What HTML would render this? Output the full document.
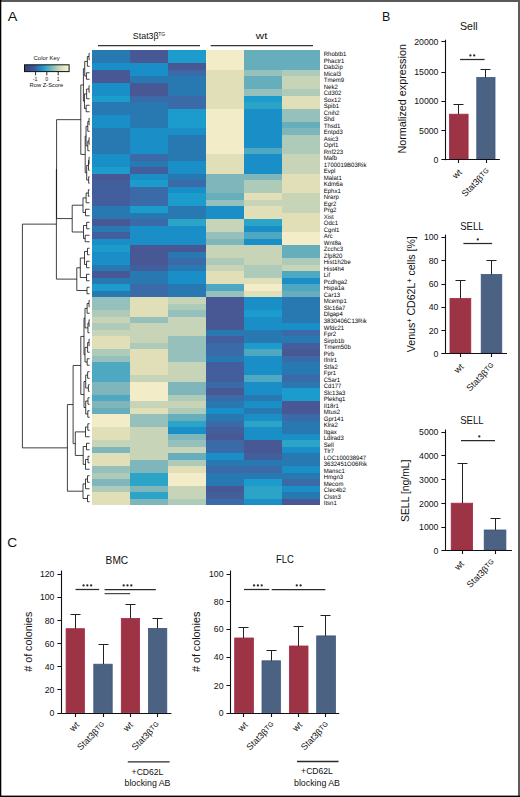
<!DOCTYPE html><html><head><meta charset="utf-8"><title>Figure</title><style>html,body{margin:0;padding:0;background:#fff;}body{width:520px;height:797px;overflow:hidden;font-family:"Liberation Sans",sans-serif;}svg{display:block;}</style></head><body><svg width="520" height="797" viewBox="0 0 520 797" style="font-family:'Liberation Sans',sans-serif" fill="#111"><defs><linearGradient id="ck" x1="0" x2="1" y1="0" y2="0"><stop offset="0" stop-color="#3a3c78"/><stop offset="0.22" stop-color="#3a5a9c"/><stop offset="0.4" stop-color="#1a96cc"/><stop offset="0.6" stop-color="#72b8bc"/><stop offset="0.8" stop-color="#cddcbc"/><stop offset="1" stop-color="#faf4d2"/></linearGradient></defs><rect width="520" height="797" fill="#fff"/><text x="7.75" y="20.80" font-size="13.60" textLength="9.60" lengthAdjust="spacingAndGlyphs">A</text><text x="382.10" y="20.50" font-size="12.90" textLength="8.31" lengthAdjust="spacingAndGlyphs">B</text><text x="7.20" y="546.70" font-size="12.80" textLength="9.89" lengthAdjust="spacingAndGlyphs">C</text><text x="132.86" y="39.00" font-size="9.20" textLength="25.79" lengthAdjust="spacingAndGlyphs">Stat3β</text><text x="158.17" y="35.60" font-size="6.10" textLength="7.05" lengthAdjust="spacingAndGlyphs">TG</text><text x="255.86" y="38.80" font-size="9.20" textLength="11.59" lengthAdjust="spacingAndGlyphs">wt</text><path d="M98 45.6H200M210.7 45.6H313" stroke="#333" stroke-width="1.2" fill="none"/><text x="33.57" y="59.80" font-size="6.20" textLength="26.17" lengthAdjust="spacingAndGlyphs">Color Key</text><rect x="24.5" y="64.8" width="44.6" height="6.8" fill="url(#ck)" stroke="#111" stroke-width="1"/><path d="M35.6 72V75.4M46.8 72V75.4M58.2 72V75.4" stroke="#111" stroke-width="0.9" fill="none"/><g font-size="5.2" text-anchor="middle"><text x="35" y="80.6">-1</text><text x="46.8" y="80.6">0</text><text x="58.2" y="80.6">1</text></g><text x="29.58" y="87.30" font-size="6.00" textLength="33.64" lengthAdjust="spacingAndGlyphs">Row Z-Score</text><g shape-rendering="crispEdges"><rect x="92.00" y="50.00" width="38.30" height="6.80" fill="#2878b2"/><rect x="130.00" y="50.00" width="38.30" height="6.80" fill="#485894"/><rect x="168.00" y="50.00" width="38.30" height="6.80" fill="#1c9ccc"/><rect x="206.00" y="50.00" width="38.30" height="6.80" fill="#f2ecc8"/><rect x="244.00" y="50.00" width="38.30" height="6.80" fill="#66aebc"/><rect x="282.00" y="50.00" width="38.30" height="6.80" fill="#66aebc"/><rect x="92.00" y="56.50" width="38.30" height="6.80" fill="#2878b2"/><rect x="130.00" y="56.50" width="38.30" height="6.80" fill="#485894"/><rect x="168.00" y="56.50" width="38.30" height="6.80" fill="#1c9ccc"/><rect x="206.00" y="56.50" width="38.30" height="6.80" fill="#f2ecc8"/><rect x="244.00" y="56.50" width="38.30" height="6.80" fill="#66aebc"/><rect x="282.00" y="56.50" width="38.30" height="6.80" fill="#66aebc"/><rect x="92.00" y="63.00" width="38.30" height="6.80" fill="#1a8ec6"/><rect x="130.00" y="63.00" width="38.30" height="6.80" fill="#1a8ec6"/><rect x="168.00" y="63.00" width="38.30" height="6.80" fill="#485894"/><rect x="206.00" y="63.00" width="38.30" height="6.80" fill="#f2ecc8"/><rect x="244.00" y="63.00" width="38.30" height="6.80" fill="#66aebc"/><rect x="282.00" y="63.00" width="38.30" height="6.80" fill="#66aebc"/><rect x="92.00" y="69.50" width="38.30" height="6.80" fill="#485894"/><rect x="130.00" y="69.50" width="38.30" height="6.80" fill="#1a8ec6"/><rect x="168.00" y="69.50" width="38.30" height="6.80" fill="#3a6aa8"/><rect x="206.00" y="69.50" width="38.30" height="6.80" fill="#e0dfb8"/><rect x="244.00" y="69.50" width="38.30" height="6.80" fill="#96c0bc"/><rect x="282.00" y="69.50" width="38.30" height="6.80" fill="#aecab8"/><rect x="92.00" y="76.00" width="38.30" height="6.80" fill="#485894"/><rect x="130.00" y="76.00" width="38.30" height="6.80" fill="#2878b2"/><rect x="168.00" y="76.00" width="38.30" height="6.80" fill="#2878b2"/><rect x="206.00" y="76.00" width="38.30" height="6.80" fill="#e0dfb8"/><rect x="244.00" y="76.00" width="38.30" height="6.80" fill="#66aebc"/><rect x="282.00" y="76.00" width="38.30" height="6.80" fill="#c8d4b8"/><rect x="92.00" y="82.50" width="38.30" height="6.80" fill="#1a8ec6"/><rect x="130.00" y="82.50" width="38.30" height="6.80" fill="#485894"/><rect x="168.00" y="82.50" width="38.30" height="6.80" fill="#2878b2"/><rect x="206.00" y="82.50" width="38.30" height="6.80" fill="#e0dfb8"/><rect x="244.00" y="82.50" width="38.30" height="6.80" fill="#66aebc"/><rect x="282.00" y="82.50" width="38.30" height="6.80" fill="#c8d4b8"/><rect x="92.00" y="89.00" width="38.30" height="6.80" fill="#1a8ec6"/><rect x="130.00" y="89.00" width="38.30" height="6.80" fill="#485894"/><rect x="168.00" y="89.00" width="38.30" height="6.80" fill="#2878b2"/><rect x="206.00" y="89.00" width="38.30" height="6.80" fill="#e0dfb8"/><rect x="244.00" y="89.00" width="38.30" height="6.80" fill="#96c0bc"/><rect x="282.00" y="89.00" width="38.30" height="6.80" fill="#aecab8"/><rect x="92.00" y="95.50" width="38.30" height="6.80" fill="#1c9ccc"/><rect x="130.00" y="95.50" width="38.30" height="6.80" fill="#3a6aa8"/><rect x="168.00" y="95.50" width="38.30" height="6.80" fill="#3a6aa8"/><rect x="206.00" y="95.50" width="38.30" height="6.80" fill="#e0dfb8"/><rect x="244.00" y="95.50" width="38.30" height="6.80" fill="#1c9ccc"/><rect x="282.00" y="95.50" width="38.30" height="6.80" fill="#e0dfb8"/><rect x="92.00" y="102.00" width="38.30" height="6.80" fill="#2878b2"/><rect x="130.00" y="102.00" width="38.30" height="6.80" fill="#2878b2"/><rect x="168.00" y="102.00" width="38.30" height="6.80" fill="#3a6aa8"/><rect x="206.00" y="102.00" width="38.30" height="6.80" fill="#e0dfb8"/><rect x="244.00" y="102.00" width="38.30" height="6.80" fill="#2ca4c8"/><rect x="282.00" y="102.00" width="38.30" height="6.80" fill="#e0dfb8"/><rect x="92.00" y="108.50" width="38.30" height="6.80" fill="#2878b2"/><rect x="130.00" y="108.50" width="38.30" height="6.80" fill="#2878b2"/><rect x="168.00" y="108.50" width="38.30" height="6.80" fill="#1c9ccc"/><rect x="206.00" y="108.50" width="38.30" height="6.80" fill="#f2ecc8"/><rect x="244.00" y="108.50" width="38.30" height="6.80" fill="#1a8ec6"/><rect x="282.00" y="108.50" width="38.30" height="6.80" fill="#96c0bc"/><rect x="92.00" y="115.00" width="38.30" height="6.80" fill="#1a8ec6"/><rect x="130.00" y="115.00" width="38.30" height="6.80" fill="#2878b2"/><rect x="168.00" y="115.00" width="38.30" height="6.80" fill="#1c9ccc"/><rect x="206.00" y="115.00" width="38.30" height="6.80" fill="#f2ecc8"/><rect x="244.00" y="115.00" width="38.30" height="6.80" fill="#1a8ec6"/><rect x="282.00" y="115.00" width="38.30" height="6.80" fill="#96c0bc"/><rect x="92.00" y="121.50" width="38.30" height="6.80" fill="#1a8ec6"/><rect x="130.00" y="121.50" width="38.30" height="6.80" fill="#2878b2"/><rect x="168.00" y="121.50" width="38.30" height="6.80" fill="#1c9ccc"/><rect x="206.00" y="121.50" width="38.30" height="6.80" fill="#f2ecc8"/><rect x="244.00" y="121.50" width="38.30" height="6.80" fill="#1a8ec6"/><rect x="282.00" y="121.50" width="38.30" height="6.80" fill="#66aebc"/><rect x="92.00" y="128.00" width="38.30" height="6.80" fill="#2878b2"/><rect x="130.00" y="128.00" width="38.30" height="6.80" fill="#1a8ec6"/><rect x="168.00" y="128.00" width="38.30" height="6.80" fill="#1a8ec6"/><rect x="206.00" y="128.00" width="38.30" height="6.80" fill="#f2ecc8"/><rect x="244.00" y="128.00" width="38.30" height="6.80" fill="#1a8ec6"/><rect x="282.00" y="128.00" width="38.30" height="6.80" fill="#7eb6bc"/><rect x="92.00" y="134.50" width="38.30" height="6.80" fill="#2878b2"/><rect x="130.00" y="134.50" width="38.30" height="6.80" fill="#1a8ec6"/><rect x="168.00" y="134.50" width="38.30" height="6.80" fill="#2878b2"/><rect x="206.00" y="134.50" width="38.30" height="6.80" fill="#f2ecc8"/><rect x="244.00" y="134.50" width="38.30" height="6.80" fill="#1a8ec6"/><rect x="282.00" y="134.50" width="38.30" height="6.80" fill="#aecab8"/><rect x="92.00" y="141.00" width="38.30" height="6.80" fill="#2878b2"/><rect x="130.00" y="141.00" width="38.30" height="6.80" fill="#1a8ec6"/><rect x="168.00" y="141.00" width="38.30" height="6.80" fill="#2878b2"/><rect x="206.00" y="141.00" width="38.30" height="6.80" fill="#f2ecc8"/><rect x="244.00" y="141.00" width="38.30" height="6.80" fill="#1a8ec6"/><rect x="282.00" y="141.00" width="38.30" height="6.80" fill="#aecab8"/><rect x="92.00" y="147.50" width="38.30" height="6.80" fill="#2878b2"/><rect x="130.00" y="147.50" width="38.30" height="6.80" fill="#1a8ec6"/><rect x="168.00" y="147.50" width="38.30" height="6.80" fill="#2878b2"/><rect x="206.00" y="147.50" width="38.30" height="6.80" fill="#f2ecc8"/><rect x="244.00" y="147.50" width="38.30" height="6.80" fill="#4ea8c2"/><rect x="282.00" y="147.50" width="38.30" height="6.80" fill="#aecab8"/><rect x="92.00" y="154.00" width="38.30" height="6.80" fill="#1a8ec6"/><rect x="130.00" y="154.00" width="38.30" height="6.80" fill="#3a6aa8"/><rect x="168.00" y="154.00" width="38.30" height="6.80" fill="#2878b2"/><rect x="206.00" y="154.00" width="38.30" height="6.80" fill="#e0dfb8"/><rect x="244.00" y="154.00" width="38.30" height="6.80" fill="#1a8ec6"/><rect x="282.00" y="154.00" width="38.30" height="6.80" fill="#c8d4b8"/><rect x="92.00" y="160.50" width="38.30" height="6.80" fill="#1a8ec6"/><rect x="130.00" y="160.50" width="38.30" height="6.80" fill="#2878b2"/><rect x="168.00" y="160.50" width="38.30" height="6.80" fill="#1a8ec6"/><rect x="206.00" y="160.50" width="38.30" height="6.80" fill="#e0dfb8"/><rect x="244.00" y="160.50" width="38.30" height="6.80" fill="#1a8ec6"/><rect x="282.00" y="160.50" width="38.30" height="6.80" fill="#c8d4b8"/><rect x="92.00" y="167.00" width="38.30" height="6.80" fill="#1c9ccc"/><rect x="130.00" y="167.00" width="38.30" height="6.80" fill="#425e9c"/><rect x="168.00" y="167.00" width="38.30" height="6.80" fill="#1a8ec6"/><rect x="206.00" y="167.00" width="38.30" height="6.80" fill="#e0dfb8"/><rect x="244.00" y="167.00" width="38.30" height="6.80" fill="#1a8ec6"/><rect x="282.00" y="167.00" width="38.30" height="6.80" fill="#c8d4b8"/><rect x="92.00" y="173.50" width="38.30" height="6.80" fill="#485894"/><rect x="130.00" y="173.50" width="38.30" height="6.80" fill="#1a8ec6"/><rect x="168.00" y="173.50" width="38.30" height="6.80" fill="#2878b2"/><rect x="206.00" y="173.50" width="38.30" height="6.80" fill="#7eb6bc"/><rect x="244.00" y="173.50" width="38.30" height="6.80" fill="#7eb6bc"/><rect x="282.00" y="173.50" width="38.30" height="6.80" fill="#e0dfb8"/><rect x="92.00" y="180.00" width="38.30" height="6.80" fill="#425e9c"/><rect x="130.00" y="180.00" width="38.30" height="6.80" fill="#1c9ccc"/><rect x="168.00" y="180.00" width="38.30" height="6.80" fill="#3a6aa8"/><rect x="206.00" y="180.00" width="38.30" height="6.80" fill="#7eb6bc"/><rect x="244.00" y="180.00" width="38.30" height="6.80" fill="#aecab8"/><rect x="282.00" y="180.00" width="38.30" height="6.80" fill="#e0dfb8"/><rect x="92.00" y="186.50" width="38.30" height="6.80" fill="#425e9c"/><rect x="130.00" y="186.50" width="38.30" height="6.80" fill="#3a6aa8"/><rect x="168.00" y="186.50" width="38.30" height="6.80" fill="#1a8ec6"/><rect x="206.00" y="186.50" width="38.30" height="6.80" fill="#7eb6bc"/><rect x="244.00" y="186.50" width="38.30" height="6.80" fill="#aecab8"/><rect x="282.00" y="186.50" width="38.30" height="6.80" fill="#e0dfb8"/><rect x="92.00" y="193.00" width="38.30" height="6.80" fill="#425e9c"/><rect x="130.00" y="193.00" width="38.30" height="6.80" fill="#3a6aa8"/><rect x="168.00" y="193.00" width="38.30" height="6.80" fill="#1c9ccc"/><rect x="206.00" y="193.00" width="38.30" height="6.80" fill="#66aebc"/><rect x="244.00" y="193.00" width="38.30" height="6.80" fill="#e0dfb8"/><rect x="282.00" y="193.00" width="38.30" height="6.80" fill="#c8d4b8"/><rect x="92.00" y="199.50" width="38.30" height="6.80" fill="#425e9c"/><rect x="130.00" y="199.50" width="38.30" height="6.80" fill="#3a6aa8"/><rect x="168.00" y="199.50" width="38.30" height="6.80" fill="#1c9ccc"/><rect x="206.00" y="199.50" width="38.30" height="6.80" fill="#96c0bc"/><rect x="244.00" y="199.50" width="38.30" height="6.80" fill="#c8d4b8"/><rect x="282.00" y="199.50" width="38.30" height="6.80" fill="#c8d4b8"/><rect x="92.00" y="206.00" width="38.30" height="6.80" fill="#2878b2"/><rect x="130.00" y="206.00" width="38.30" height="6.80" fill="#1c9ccc"/><rect x="168.00" y="206.00" width="38.30" height="6.80" fill="#2878b2"/><rect x="206.00" y="206.00" width="38.30" height="6.80" fill="#1a8ec6"/><rect x="244.00" y="206.00" width="38.30" height="6.80" fill="#e0dfb8"/><rect x="282.00" y="206.00" width="38.30" height="6.80" fill="#c8d4b8"/><rect x="92.00" y="212.50" width="38.30" height="6.80" fill="#2878b2"/><rect x="130.00" y="212.50" width="38.30" height="6.80" fill="#2878b2"/><rect x="168.00" y="212.50" width="38.30" height="6.80" fill="#2878b2"/><rect x="206.00" y="212.50" width="38.30" height="6.80" fill="#1a8ec6"/><rect x="244.00" y="212.50" width="38.30" height="6.80" fill="#e0dfb8"/><rect x="282.00" y="212.50" width="38.30" height="6.80" fill="#e0dfb8"/><rect x="92.00" y="219.00" width="38.30" height="6.80" fill="#485894"/><rect x="130.00" y="219.00" width="38.30" height="6.80" fill="#3a6aa8"/><rect x="168.00" y="219.00" width="38.30" height="6.80" fill="#2ca4c8"/><rect x="206.00" y="219.00" width="38.30" height="6.80" fill="#c8d4b8"/><rect x="244.00" y="219.00" width="38.30" height="6.80" fill="#2ca4c8"/><rect x="282.00" y="219.00" width="38.30" height="6.80" fill="#e0dfb8"/><rect x="92.00" y="225.50" width="38.30" height="6.80" fill="#2878b2"/><rect x="130.00" y="225.50" width="38.30" height="6.80" fill="#1a8ec6"/><rect x="168.00" y="225.50" width="38.30" height="6.80" fill="#1a8ec6"/><rect x="206.00" y="225.50" width="38.30" height="6.80" fill="#c8d4b8"/><rect x="244.00" y="225.50" width="38.30" height="6.80" fill="#1a8ec6"/><rect x="282.00" y="225.50" width="38.30" height="6.80" fill="#e0dfb8"/><rect x="92.00" y="232.00" width="38.30" height="6.80" fill="#425e9c"/><rect x="130.00" y="232.00" width="38.30" height="6.80" fill="#1a8ec6"/><rect x="168.00" y="232.00" width="38.30" height="6.80" fill="#1a8ec6"/><rect x="206.00" y="232.00" width="38.30" height="6.80" fill="#96c0bc"/><rect x="244.00" y="232.00" width="38.30" height="6.80" fill="#4ea8c2"/><rect x="282.00" y="232.00" width="38.30" height="6.80" fill="#f2ecc8"/><rect x="92.00" y="238.50" width="38.30" height="6.80" fill="#1a8ec6"/><rect x="130.00" y="238.50" width="38.30" height="6.80" fill="#1a8ec6"/><rect x="168.00" y="238.50" width="38.30" height="6.80" fill="#1a8ec6"/><rect x="206.00" y="238.50" width="38.30" height="6.80" fill="#7eb6bc"/><rect x="244.00" y="238.50" width="38.30" height="6.80" fill="#1a8ec6"/><rect x="282.00" y="238.50" width="38.30" height="6.80" fill="#f2ecc8"/><rect x="92.00" y="245.00" width="38.30" height="6.80" fill="#1c9ccc"/><rect x="130.00" y="245.00" width="38.30" height="6.80" fill="#485894"/><rect x="168.00" y="245.00" width="38.30" height="6.80" fill="#485894"/><rect x="206.00" y="245.00" width="38.30" height="6.80" fill="#c8d4b8"/><rect x="244.00" y="245.00" width="38.30" height="6.80" fill="#c8d4b8"/><rect x="282.00" y="245.00" width="38.30" height="6.80" fill="#66aebc"/><rect x="92.00" y="251.50" width="38.30" height="6.80" fill="#1a8ec6"/><rect x="130.00" y="251.50" width="38.30" height="6.80" fill="#485894"/><rect x="168.00" y="251.50" width="38.30" height="6.80" fill="#2878b2"/><rect x="206.00" y="251.50" width="38.30" height="6.80" fill="#c8d4b8"/><rect x="244.00" y="251.50" width="38.30" height="6.80" fill="#c8d4b8"/><rect x="282.00" y="251.50" width="38.30" height="6.80" fill="#66aebc"/><rect x="92.00" y="258.00" width="38.30" height="6.80" fill="#1a8ec6"/><rect x="130.00" y="258.00" width="38.30" height="6.80" fill="#485894"/><rect x="168.00" y="258.00" width="38.30" height="6.80" fill="#3a6aa8"/><rect x="206.00" y="258.00" width="38.30" height="6.80" fill="#aecab8"/><rect x="244.00" y="258.00" width="38.30" height="6.80" fill="#c8d4b8"/><rect x="282.00" y="258.00" width="38.30" height="6.80" fill="#aecab8"/><rect x="92.00" y="264.50" width="38.30" height="6.80" fill="#2878b2"/><rect x="130.00" y="264.50" width="38.30" height="6.80" fill="#425e9c"/><rect x="168.00" y="264.50" width="38.30" height="6.80" fill="#2878b2"/><rect x="206.00" y="264.50" width="38.30" height="6.80" fill="#c8d4b8"/><rect x="244.00" y="264.50" width="38.30" height="6.80" fill="#aecab8"/><rect x="282.00" y="264.50" width="38.30" height="6.80" fill="#c8d4b8"/><rect x="92.00" y="271.00" width="38.30" height="6.80" fill="#485894"/><rect x="130.00" y="271.00" width="38.30" height="6.80" fill="#2878b2"/><rect x="168.00" y="271.00" width="38.30" height="6.80" fill="#1a8ec6"/><rect x="206.00" y="271.00" width="38.30" height="6.80" fill="#e0dfb8"/><rect x="244.00" y="271.00" width="38.30" height="6.80" fill="#aecab8"/><rect x="282.00" y="271.00" width="38.30" height="6.80" fill="#4ea8c2"/><rect x="92.00" y="277.50" width="38.30" height="6.80" fill="#2878b2"/><rect x="130.00" y="277.50" width="38.30" height="6.80" fill="#2878b2"/><rect x="168.00" y="277.50" width="38.30" height="6.80" fill="#1a8ec6"/><rect x="206.00" y="277.50" width="38.30" height="6.80" fill="#e0dfb8"/><rect x="244.00" y="277.50" width="38.30" height="6.80" fill="#e0dfb8"/><rect x="282.00" y="277.50" width="38.30" height="6.80" fill="#1a8ec6"/><rect x="92.00" y="284.00" width="38.30" height="6.80" fill="#1c9ccc"/><rect x="130.00" y="284.00" width="38.30" height="6.80" fill="#3a6aa8"/><rect x="168.00" y="284.00" width="38.30" height="6.80" fill="#2878b2"/><rect x="206.00" y="284.00" width="38.30" height="6.80" fill="#4ea8c2"/><rect x="244.00" y="284.00" width="38.30" height="6.80" fill="#f2ecc8"/><rect x="282.00" y="284.00" width="38.30" height="6.80" fill="#4ea8c2"/><rect x="92.00" y="290.50" width="38.30" height="6.80" fill="#2878b2"/><rect x="130.00" y="290.50" width="38.30" height="6.80" fill="#3a6aa8"/><rect x="168.00" y="290.50" width="38.30" height="6.80" fill="#2878b2"/><rect x="206.00" y="290.50" width="38.30" height="6.80" fill="#96c0bc"/><rect x="244.00" y="290.50" width="38.30" height="6.80" fill="#e0dfb8"/><rect x="282.00" y="290.50" width="38.30" height="6.80" fill="#66aebc"/><rect x="92.00" y="297.00" width="38.30" height="6.80" fill="#96c0bc"/><rect x="130.00" y="297.00" width="38.30" height="6.80" fill="#e0dfb8"/><rect x="168.00" y="297.00" width="38.30" height="6.80" fill="#c8d4b8"/><rect x="206.00" y="297.00" width="38.30" height="6.80" fill="#485894"/><rect x="244.00" y="297.00" width="38.30" height="6.80" fill="#1a8ec6"/><rect x="282.00" y="297.00" width="38.30" height="6.80" fill="#2878b2"/><rect x="92.00" y="303.50" width="38.30" height="6.80" fill="#96c0bc"/><rect x="130.00" y="303.50" width="38.30" height="6.80" fill="#e0dfb8"/><rect x="168.00" y="303.50" width="38.30" height="6.80" fill="#aecab8"/><rect x="206.00" y="303.50" width="38.30" height="6.80" fill="#485894"/><rect x="244.00" y="303.50" width="38.30" height="6.80" fill="#1a8ec6"/><rect x="282.00" y="303.50" width="38.30" height="6.80" fill="#2878b2"/><rect x="92.00" y="310.00" width="38.30" height="6.80" fill="#aecab8"/><rect x="130.00" y="310.00" width="38.30" height="6.80" fill="#e0dfb8"/><rect x="168.00" y="310.00" width="38.30" height="6.80" fill="#96c0bc"/><rect x="206.00" y="310.00" width="38.30" height="6.80" fill="#485894"/><rect x="244.00" y="310.00" width="38.30" height="6.80" fill="#1c9ccc"/><rect x="282.00" y="310.00" width="38.30" height="6.80" fill="#2878b2"/><rect x="92.00" y="316.50" width="38.30" height="6.80" fill="#c8d4b8"/><rect x="130.00" y="316.50" width="38.30" height="6.80" fill="#96c0bc"/><rect x="168.00" y="316.50" width="38.30" height="6.80" fill="#c8d4b8"/><rect x="206.00" y="316.50" width="38.30" height="6.80" fill="#485894"/><rect x="244.00" y="316.50" width="38.30" height="6.80" fill="#1a8ec6"/><rect x="282.00" y="316.50" width="38.30" height="6.80" fill="#2878b2"/><rect x="92.00" y="323.00" width="38.30" height="6.80" fill="#aecab8"/><rect x="130.00" y="323.00" width="38.30" height="6.80" fill="#c8d4b8"/><rect x="168.00" y="323.00" width="38.30" height="6.80" fill="#c8d4b8"/><rect x="206.00" y="323.00" width="38.30" height="6.80" fill="#485894"/><rect x="244.00" y="323.00" width="38.30" height="6.80" fill="#1a8ec6"/><rect x="282.00" y="323.00" width="38.30" height="6.80" fill="#1a8ec6"/><rect x="92.00" y="329.50" width="38.30" height="6.80" fill="#c8d4b8"/><rect x="130.00" y="329.50" width="38.30" height="6.80" fill="#c8d4b8"/><rect x="168.00" y="329.50" width="38.30" height="6.80" fill="#c8d4b8"/><rect x="206.00" y="329.50" width="38.30" height="6.80" fill="#2878b2"/><rect x="244.00" y="329.50" width="38.30" height="6.80" fill="#2878b2"/><rect x="282.00" y="329.50" width="38.30" height="6.80" fill="#3a6aa8"/><rect x="92.00" y="336.00" width="38.30" height="6.80" fill="#e0dfb8"/><rect x="130.00" y="336.00" width="38.30" height="6.80" fill="#c8d4b8"/><rect x="168.00" y="336.00" width="38.30" height="6.80" fill="#96c0bc"/><rect x="206.00" y="336.00" width="38.30" height="6.80" fill="#425e9c"/><rect x="244.00" y="336.00" width="38.30" height="6.80" fill="#2878b2"/><rect x="282.00" y="336.00" width="38.30" height="6.80" fill="#2878b2"/><rect x="92.00" y="342.50" width="38.30" height="6.80" fill="#e0dfb8"/><rect x="130.00" y="342.50" width="38.30" height="6.80" fill="#aecab8"/><rect x="168.00" y="342.50" width="38.30" height="6.80" fill="#96c0bc"/><rect x="206.00" y="342.50" width="38.30" height="6.80" fill="#3a6aa8"/><rect x="244.00" y="342.50" width="38.30" height="6.80" fill="#1c9ccc"/><rect x="282.00" y="342.50" width="38.30" height="6.80" fill="#425e9c"/><rect x="92.00" y="349.00" width="38.30" height="6.80" fill="#aecab8"/><rect x="130.00" y="349.00" width="38.30" height="6.80" fill="#e0dfb8"/><rect x="168.00" y="349.00" width="38.30" height="6.80" fill="#96c0bc"/><rect x="206.00" y="349.00" width="38.30" height="6.80" fill="#3a6aa8"/><rect x="244.00" y="349.00" width="38.30" height="6.80" fill="#4ea8c2"/><rect x="282.00" y="349.00" width="38.30" height="6.80" fill="#485894"/><rect x="92.00" y="355.50" width="38.30" height="6.80" fill="#96c0bc"/><rect x="130.00" y="355.50" width="38.30" height="6.80" fill="#e0dfb8"/><rect x="168.00" y="355.50" width="38.30" height="6.80" fill="#96c0bc"/><rect x="206.00" y="355.50" width="38.30" height="6.80" fill="#2878b2"/><rect x="244.00" y="355.50" width="38.30" height="6.80" fill="#1a8ec6"/><rect x="282.00" y="355.50" width="38.30" height="6.80" fill="#3a6aa8"/><rect x="92.00" y="362.00" width="38.30" height="6.80" fill="#4ea8c2"/><rect x="130.00" y="362.00" width="38.30" height="6.80" fill="#e0dfb8"/><rect x="168.00" y="362.00" width="38.30" height="6.80" fill="#c8d4b8"/><rect x="206.00" y="362.00" width="38.30" height="6.80" fill="#425e9c"/><rect x="244.00" y="362.00" width="38.30" height="6.80" fill="#1a8ec6"/><rect x="282.00" y="362.00" width="38.30" height="6.80" fill="#2878b2"/><rect x="92.00" y="368.50" width="38.30" height="6.80" fill="#4ea8c2"/><rect x="130.00" y="368.50" width="38.30" height="6.80" fill="#e0dfb8"/><rect x="168.00" y="368.50" width="38.30" height="6.80" fill="#c8d4b8"/><rect x="206.00" y="368.50" width="38.30" height="6.80" fill="#425e9c"/><rect x="244.00" y="368.50" width="38.30" height="6.80" fill="#1a8ec6"/><rect x="282.00" y="368.50" width="38.30" height="6.80" fill="#2878b2"/><rect x="92.00" y="375.00" width="38.30" height="6.80" fill="#4ea8c2"/><rect x="130.00" y="375.00" width="38.30" height="6.80" fill="#c8d4b8"/><rect x="168.00" y="375.00" width="38.30" height="6.80" fill="#c8d4b8"/><rect x="206.00" y="375.00" width="38.30" height="6.80" fill="#425e9c"/><rect x="244.00" y="375.00" width="38.30" height="6.80" fill="#4ea8c2"/><rect x="282.00" y="375.00" width="38.30" height="6.80" fill="#3a6aa8"/><rect x="92.00" y="381.50" width="38.30" height="6.80" fill="#7eb6bc"/><rect x="130.00" y="381.50" width="38.30" height="6.80" fill="#f2ecc8"/><rect x="168.00" y="381.50" width="38.30" height="6.80" fill="#7eb6bc"/><rect x="206.00" y="381.50" width="38.30" height="6.80" fill="#3a6aa8"/><rect x="244.00" y="381.50" width="38.30" height="6.80" fill="#1a8ec6"/><rect x="282.00" y="381.50" width="38.30" height="6.80" fill="#2878b2"/><rect x="92.00" y="388.00" width="38.30" height="6.80" fill="#7eb6bc"/><rect x="130.00" y="388.00" width="38.30" height="6.80" fill="#f2ecc8"/><rect x="168.00" y="388.00" width="38.30" height="6.80" fill="#7eb6bc"/><rect x="206.00" y="388.00" width="38.30" height="6.80" fill="#485894"/><rect x="244.00" y="388.00" width="38.30" height="6.80" fill="#1a8ec6"/><rect x="282.00" y="388.00" width="38.30" height="6.80" fill="#1c9ccc"/><rect x="92.00" y="394.50" width="38.30" height="6.80" fill="#4ea8c2"/><rect x="130.00" y="394.50" width="38.30" height="6.80" fill="#f2ecc8"/><rect x="168.00" y="394.50" width="38.30" height="6.80" fill="#aecab8"/><rect x="206.00" y="394.50" width="38.30" height="6.80" fill="#3a6aa8"/><rect x="244.00" y="394.50" width="38.30" height="6.80" fill="#2878b2"/><rect x="282.00" y="394.50" width="38.30" height="6.80" fill="#1c9ccc"/><rect x="92.00" y="401.00" width="38.30" height="6.80" fill="#7eb6bc"/><rect x="130.00" y="401.00" width="38.30" height="6.80" fill="#c8d4b8"/><rect x="168.00" y="401.00" width="38.30" height="6.80" fill="#c8d4b8"/><rect x="206.00" y="401.00" width="38.30" height="6.80" fill="#2878b2"/><rect x="244.00" y="401.00" width="38.30" height="6.80" fill="#1a8ec6"/><rect x="282.00" y="401.00" width="38.30" height="6.80" fill="#485894"/><rect x="92.00" y="407.50" width="38.30" height="6.80" fill="#66aebc"/><rect x="130.00" y="407.50" width="38.30" height="6.80" fill="#e0dfb8"/><rect x="168.00" y="407.50" width="38.30" height="6.80" fill="#aecab8"/><rect x="206.00" y="407.50" width="38.30" height="6.80" fill="#1a8ec6"/><rect x="244.00" y="407.50" width="38.30" height="6.80" fill="#2878b2"/><rect x="282.00" y="407.50" width="38.30" height="6.80" fill="#485894"/><rect x="92.00" y="414.00" width="38.30" height="6.80" fill="#f2ecc8"/><rect x="130.00" y="414.00" width="38.30" height="6.80" fill="#96c0bc"/><rect x="168.00" y="414.00" width="38.30" height="6.80" fill="#66aebc"/><rect x="206.00" y="414.00" width="38.30" height="6.80" fill="#2878b2"/><rect x="244.00" y="414.00" width="38.30" height="6.80" fill="#1a8ec6"/><rect x="282.00" y="414.00" width="38.30" height="6.80" fill="#3a6aa8"/><rect x="92.00" y="420.50" width="38.30" height="6.80" fill="#f2ecc8"/><rect x="130.00" y="420.50" width="38.30" height="6.80" fill="#96c0bc"/><rect x="168.00" y="420.50" width="38.30" height="6.80" fill="#2ca4c8"/><rect x="206.00" y="420.50" width="38.30" height="6.80" fill="#3a6aa8"/><rect x="244.00" y="420.50" width="38.30" height="6.80" fill="#2ca4c8"/><rect x="282.00" y="420.50" width="38.30" height="6.80" fill="#2878b2"/><rect x="92.00" y="427.00" width="38.30" height="6.80" fill="#e0dfb8"/><rect x="130.00" y="427.00" width="38.30" height="6.80" fill="#c8d4b8"/><rect x="168.00" y="427.00" width="38.30" height="6.80" fill="#1a8ec6"/><rect x="206.00" y="427.00" width="38.30" height="6.80" fill="#425e9c"/><rect x="244.00" y="427.00" width="38.30" height="6.80" fill="#1a8ec6"/><rect x="282.00" y="427.00" width="38.30" height="6.80" fill="#2878b2"/><rect x="92.00" y="433.50" width="38.30" height="6.80" fill="#e0dfb8"/><rect x="130.00" y="433.50" width="38.30" height="6.80" fill="#c8d4b8"/><rect x="168.00" y="433.50" width="38.30" height="6.80" fill="#7eb6bc"/><rect x="206.00" y="433.50" width="38.30" height="6.80" fill="#485894"/><rect x="244.00" y="433.50" width="38.30" height="6.80" fill="#1a8ec6"/><rect x="282.00" y="433.50" width="38.30" height="6.80" fill="#1a8ec6"/><rect x="92.00" y="440.00" width="38.30" height="6.80" fill="#c8d4b8"/><rect x="130.00" y="440.00" width="38.30" height="6.80" fill="#c8d4b8"/><rect x="168.00" y="440.00" width="38.30" height="6.80" fill="#96c0bc"/><rect x="206.00" y="440.00" width="38.30" height="6.80" fill="#3a6aa8"/><rect x="244.00" y="440.00" width="38.30" height="6.80" fill="#485894"/><rect x="282.00" y="440.00" width="38.30" height="6.80" fill="#2ca4c8"/><rect x="92.00" y="446.50" width="38.30" height="6.80" fill="#7eb6bc"/><rect x="130.00" y="446.50" width="38.30" height="6.80" fill="#c8d4b8"/><rect x="168.00" y="446.50" width="38.30" height="6.80" fill="#c8d4b8"/><rect x="206.00" y="446.50" width="38.30" height="6.80" fill="#3a6aa8"/><rect x="244.00" y="446.50" width="38.30" height="6.80" fill="#485894"/><rect x="282.00" y="446.50" width="38.30" height="6.80" fill="#1a8ec6"/><rect x="92.00" y="453.00" width="38.30" height="6.80" fill="#e0dfb8"/><rect x="130.00" y="453.00" width="38.30" height="6.80" fill="#c8d4b8"/><rect x="168.00" y="453.00" width="38.30" height="6.80" fill="#66aebc"/><rect x="206.00" y="453.00" width="38.30" height="6.80" fill="#1a8ec6"/><rect x="244.00" y="453.00" width="38.30" height="6.80" fill="#425e9c"/><rect x="282.00" y="453.00" width="38.30" height="6.80" fill="#2878b2"/><rect x="92.00" y="459.50" width="38.30" height="6.80" fill="#e0dfb8"/><rect x="130.00" y="459.50" width="38.30" height="6.80" fill="#7eb6bc"/><rect x="168.00" y="459.50" width="38.30" height="6.80" fill="#aecab8"/><rect x="206.00" y="459.50" width="38.30" height="6.80" fill="#2878b2"/><rect x="244.00" y="459.50" width="38.30" height="6.80" fill="#2878b2"/><rect x="282.00" y="459.50" width="38.30" height="6.80" fill="#2878b2"/><rect x="92.00" y="466.00" width="38.30" height="6.80" fill="#96c0bc"/><rect x="130.00" y="466.00" width="38.30" height="6.80" fill="#7eb6bc"/><rect x="168.00" y="466.00" width="38.30" height="6.80" fill="#e0dfb8"/><rect x="206.00" y="466.00" width="38.30" height="6.80" fill="#3a6aa8"/><rect x="244.00" y="466.00" width="38.30" height="6.80" fill="#3a6aa8"/><rect x="282.00" y="466.00" width="38.30" height="6.80" fill="#1a8ec6"/><rect x="92.00" y="472.50" width="38.30" height="6.80" fill="#aecab8"/><rect x="130.00" y="472.50" width="38.30" height="6.80" fill="#2ca4c8"/><rect x="168.00" y="472.50" width="38.30" height="6.80" fill="#f2ecc8"/><rect x="206.00" y="472.50" width="38.30" height="6.80" fill="#2878b2"/><rect x="244.00" y="472.50" width="38.30" height="6.80" fill="#2878b2"/><rect x="282.00" y="472.50" width="38.30" height="6.80" fill="#2878b2"/><rect x="92.00" y="479.00" width="38.30" height="6.80" fill="#7eb6bc"/><rect x="130.00" y="479.00" width="38.30" height="6.80" fill="#2ca4c8"/><rect x="168.00" y="479.00" width="38.30" height="6.80" fill="#f2ecc8"/><rect x="206.00" y="479.00" width="38.30" height="6.80" fill="#2878b2"/><rect x="244.00" y="479.00" width="38.30" height="6.80" fill="#1c9ccc"/><rect x="282.00" y="479.00" width="38.30" height="6.80" fill="#3a6aa8"/><rect x="92.00" y="485.50" width="38.30" height="6.80" fill="#aecab8"/><rect x="130.00" y="485.50" width="38.30" height="6.80" fill="#7eb6bc"/><rect x="168.00" y="485.50" width="38.30" height="6.80" fill="#c8d4b8"/><rect x="206.00" y="485.50" width="38.30" height="6.80" fill="#485894"/><rect x="244.00" y="485.50" width="38.30" height="6.80" fill="#2ca4c8"/><rect x="282.00" y="485.50" width="38.30" height="6.80" fill="#1a8ec6"/><rect x="92.00" y="492.00" width="38.30" height="6.80" fill="#e0dfb8"/><rect x="130.00" y="492.00" width="38.30" height="6.80" fill="#2ca4c8"/><rect x="168.00" y="492.00" width="38.30" height="6.80" fill="#c8d4b8"/><rect x="206.00" y="492.00" width="38.30" height="6.80" fill="#425e9c"/><rect x="244.00" y="492.00" width="38.30" height="6.80" fill="#2ca4c8"/><rect x="282.00" y="492.00" width="38.30" height="6.80" fill="#2878b2"/><rect x="92.00" y="498.50" width="38.30" height="6.80" fill="#e0dfb8"/><rect x="130.00" y="498.50" width="38.30" height="6.80" fill="#7eb6bc"/><rect x="168.00" y="498.50" width="38.30" height="6.80" fill="#aecab8"/><rect x="206.00" y="498.50" width="38.30" height="6.80" fill="#3a6aa8"/><rect x="244.00" y="498.50" width="38.30" height="6.80" fill="#1a8ec6"/><rect x="282.00" y="498.50" width="38.30" height="6.80" fill="#485894"/></g><path d="M89.00 53.25L89.00 59.75M89.00 53.25L89.60 53.25M89.00 59.75L89.60 59.75M87.36 56.50L87.36 66.25M87.36 56.50L89.00 56.50M87.36 66.25L89.60 66.25M86.43 72.75L86.43 79.25M86.43 72.75L89.60 72.75M86.43 79.25L89.60 79.25M84.72 61.38L84.72 76.00M84.72 61.38L87.36 61.38M84.72 76.00L86.43 76.00M89.00 85.75L89.00 92.25M89.00 85.75L89.60 85.75M89.00 92.25L89.60 92.25M86.63 89.00L86.63 98.75M86.63 89.00L89.00 89.00M86.63 98.75L89.60 98.75M86.13 105.25L86.13 111.75M86.13 105.25L89.60 105.25M86.13 111.75L89.60 111.75M84.44 93.88L84.44 108.50M84.44 93.88L86.63 93.88M84.44 108.50L86.13 108.50M83.40 68.69L83.40 101.19M83.40 68.69L84.72 68.69M83.40 101.19L84.44 101.19M89.00 118.25L89.00 124.75M89.00 118.25L89.60 118.25M89.00 124.75L89.60 124.75M87.77 121.50L87.77 131.25M87.77 121.50L89.00 121.50M87.77 131.25L89.60 131.25M89.00 137.75L89.00 144.25M89.00 137.75L89.60 137.75M89.00 144.25L89.60 144.25M87.81 141.00L87.81 150.75M87.81 141.00L89.00 141.00M87.81 150.75L89.60 150.75M86.06 126.38L86.06 145.88M86.06 126.38L87.77 126.38M86.06 145.88L87.81 145.88M89.00 157.25L89.00 163.75M89.00 157.25L89.60 157.25M89.00 163.75L89.60 163.75M88.49 160.50L88.49 170.25M88.49 160.50L89.00 160.50M88.49 170.25L89.60 170.25M88.65 176.75L88.65 183.25M88.65 176.75L89.60 176.75M88.65 183.25L89.60 183.25M86.69 165.38L86.69 180.00M86.69 165.38L88.49 165.38M86.69 180.00L88.65 180.00M85.20 136.12L85.20 172.69M85.20 136.12L86.06 136.12M85.20 172.69L86.69 172.69M80.80 84.94L80.80 154.41M80.80 84.94L83.40 84.94M80.80 154.41L85.20 154.41M88.35 189.75L88.35 196.25M88.35 189.75L89.60 189.75M88.35 196.25L89.60 196.25M86.12 193.00L86.12 202.75M86.12 193.00L88.35 193.00M86.12 202.75L89.60 202.75M85.52 209.25L85.52 215.75M85.52 209.25L89.60 209.25M85.52 215.75L89.60 215.75M83.00 197.88L83.00 212.50M83.00 197.88L86.12 197.88M83.00 212.50L85.52 212.50M86.66 222.25L86.66 228.75M86.66 222.25L89.60 222.25M86.66 228.75L89.60 228.75M85.17 235.25L85.17 241.75M85.17 235.25L89.60 235.25M85.17 241.75L89.60 241.75M83.50 225.50L83.50 238.50M83.50 225.50L86.66 225.50M83.50 238.50L85.17 238.50M72.20 205.19L72.20 232.00M72.20 205.19L83.00 205.19M72.20 232.00L83.50 232.00M56.60 119.67L56.60 218.59M56.60 119.67L80.80 119.67M56.60 218.59L72.20 218.59M87.47 248.25L87.47 254.75M87.47 248.25L89.60 248.25M87.47 254.75L89.60 254.75M86.56 261.25L86.56 267.75M86.56 261.25L89.60 261.25M86.56 267.75L89.60 267.75M84.50 251.50L84.50 264.50M84.50 251.50L87.47 251.50M84.50 264.50L86.56 264.50M86.50 274.25L86.50 280.75M86.50 274.25L89.60 274.25M86.50 280.75L89.60 280.75M80.30 258.00L80.30 277.50M80.30 258.00L84.50 258.00M80.30 277.50L86.50 277.50M87.00 287.25L87.00 293.75M87.00 287.25L89.60 287.25M87.00 293.75L89.60 293.75M76.80 267.75L76.80 290.50M76.80 267.75L80.30 267.75M76.80 290.50L87.00 290.50M56.40 169.13L56.40 279.12M56.40 169.13L56.60 169.13M56.40 279.12L76.80 279.12M89.00 300.25L89.00 306.75M89.00 300.25L89.60 300.25M89.00 306.75L89.60 306.75M87.12 303.50L87.12 313.25M87.12 303.50L89.00 303.50M87.12 313.25L89.60 313.25M89.00 319.75L89.00 326.25M89.00 319.75L89.60 319.75M89.00 326.25L89.60 326.25M87.94 323.00L87.94 332.75M87.94 323.00L89.00 323.00M87.94 332.75L89.60 332.75M85.03 308.38L85.03 327.88M85.03 308.38L87.12 308.38M85.03 327.88L87.94 327.88M89.00 339.25L89.00 345.75M89.00 339.25L89.60 339.25M89.00 345.75L89.60 345.75M87.61 342.50L87.61 352.25M87.61 342.50L89.00 342.50M87.61 352.25L89.60 352.25M87.18 358.75L87.18 365.25M87.18 358.75L89.60 358.75M87.18 365.25L89.60 365.25M84.99 347.38L84.99 362.00M84.99 347.38L87.61 347.38M84.99 362.00L87.18 362.00M84.00 318.12L84.00 354.69M84.00 318.12L85.03 318.12M84.00 354.69L84.99 354.69M87.63 371.75L87.63 378.25M87.63 371.75L89.60 371.75M87.63 378.25L89.60 378.25M88.39 384.75L88.39 391.25M88.39 384.75L89.60 384.75M88.39 391.25L89.60 391.25M85.70 375.00L85.70 388.00M85.70 375.00L87.63 375.00M85.70 388.00L88.39 388.00M87.98 397.75L87.98 404.25M87.98 397.75L89.60 397.75M87.98 404.25L89.60 404.25M87.80 410.75L87.80 417.25M87.80 410.75L89.60 410.75M87.80 417.25L89.60 417.25M85.70 401.00L85.70 414.00M85.70 401.00L87.98 401.00M85.70 414.00L87.80 414.00M84.00 381.50L84.00 407.50M84.00 381.50L85.70 381.50M84.00 407.50L85.70 407.50M80.80 336.41L80.80 394.50M80.80 336.41L84.00 336.41M80.80 394.50L84.00 394.50M86.50 443.25L86.50 449.75M86.50 443.25L89.60 443.25M86.50 449.75L89.60 449.75M88.04 456.25L88.04 462.75M88.04 456.25L89.60 456.25M88.04 462.75L89.60 462.75M85.50 459.50L85.50 469.25M85.50 459.50L88.04 459.50M85.50 469.25L89.60 469.25M83.20 446.50L83.20 464.38M83.20 446.50L86.50 446.50M83.20 464.38L85.50 464.38M87.83 423.75L87.83 430.25M87.83 423.75L89.60 423.75M87.83 430.25L89.60 430.25M85.50 427.00L85.50 436.75M85.50 427.00L87.83 427.00M85.50 436.75L89.60 436.75M75.30 431.88L75.30 455.44M75.30 431.88L85.50 431.88M75.30 455.44L83.20 455.44M73.10 365.45L73.10 443.66M73.10 365.45L80.80 365.45M73.10 443.66L75.30 443.66M87.50 475.75L87.50 482.25M87.50 475.75L89.60 475.75M87.50 482.25L89.60 482.25M85.50 479.00L85.50 488.75M85.50 479.00L87.50 479.00M85.50 488.75L89.60 488.75M87.50 495.25L87.50 501.75M87.50 495.25L89.60 495.25M87.50 501.75L89.60 501.75M83.00 483.88L83.00 498.50M83.00 483.88L85.50 483.88M83.00 498.50L87.50 498.50M67.40 404.55L67.40 491.19M67.40 404.55L73.10 404.55M67.40 491.19L83.00 491.19M22.40 224.13L22.40 447.87M22.40 224.13L56.40 224.13M22.40 447.87L67.40 447.87" stroke="#111" stroke-width="0.8" fill="none"/><g font-size="6.3" fill="#000" text-rendering="geometricPrecision" transform="translate(323.8 0) scale(0.95 1) translate(-323.8 0)"><text x="323.8" y="56.00">Rhobtb1</text><text x="323.8" y="62.51">Phactr1</text><text x="323.8" y="69.02">Dab2ip</text><text x="323.8" y="75.54">Mical3</text><text x="323.8" y="82.05">Tmem9</text><text x="323.8" y="88.56">Nek2</text><text x="323.8" y="95.07">Cd302</text><text x="323.8" y="101.58">Sox12</text><text x="323.8" y="108.10">Spib1</text><text x="323.8" y="114.61">Cnih2</text><text x="323.8" y="121.12">Shd</text><text x="323.8" y="127.63">Thsd1</text><text x="323.8" y="134.14">Entpd3</text><text x="323.8" y="140.66">Asic3</text><text x="323.8" y="147.17">Oprl1</text><text x="323.8" y="153.68">Rnf223</text><text x="323.8" y="160.19">Mafb</text><text x="323.8" y="166.70">1700019B03Rik</text><text x="323.8" y="173.22">Evpl</text><text x="323.8" y="179.73">Malat1</text><text x="323.8" y="186.24">Kdm6a</text><text x="323.8" y="192.75">Ephx1</text><text x="323.8" y="199.26">Nrarp</text><text x="323.8" y="205.78">Egr2</text><text x="323.8" y="212.29">Prg2</text><text x="323.8" y="218.80">Xist</text><text x="323.8" y="225.31">Odc1</text><text x="323.8" y="231.82">Cgnl1</text><text x="323.8" y="238.34">Arc</text><text x="323.8" y="244.85">Wnt8a</text><text x="323.8" y="251.36">Zcchc3</text><text x="323.8" y="257.87">Zfp820</text><text x="323.8" y="264.38">Hist1h2be</text><text x="323.8" y="270.90">Hist4h4</text><text x="323.8" y="277.41">Lif</text><text x="323.8" y="283.92">Pcdhga2</text><text x="323.8" y="290.43">Hspa1a</text><text x="323.8" y="296.94">Car13</text><text x="323.8" y="303.46">Mcemp1</text><text x="323.8" y="309.97">Slc16a7</text><text x="323.8" y="316.48">Dlgap4</text><text x="323.8" y="322.99">3830406C13Rik</text><text x="323.8" y="329.50">Wfdc21</text><text x="323.8" y="336.02">Fpr2</text><text x="323.8" y="342.53">Sirpb1b</text><text x="323.8" y="349.04">Tmem50b</text><text x="323.8" y="355.55">Pirb</text><text x="323.8" y="362.06">Ifnlr1</text><text x="323.8" y="368.58">Stfa2</text><text x="323.8" y="375.09">Fpr1</text><text x="323.8" y="381.60">C5ar1</text><text x="323.8" y="388.11">Cd177</text><text x="323.8" y="394.62">Slc13a3</text><text x="323.8" y="401.14">Plekhg1</text><text x="323.8" y="407.65">Il18r1</text><text x="323.8" y="414.16">Mtus2</text><text x="323.8" y="420.67">Gpr141</text><text x="323.8" y="427.18">Klra2</text><text x="323.8" y="433.70">Itgax</text><text x="323.8" y="440.21">Ldlrad3</text><text x="323.8" y="446.72">Sell</text><text x="323.8" y="453.23">Tlr7</text><text x="323.8" y="459.74">LOC100038947</text><text x="323.8" y="466.26">3632451O06Rik</text><text x="323.8" y="472.77">Mansc1</text><text x="323.8" y="479.28">Hmgn3</text><text x="323.8" y="485.79">Mecom</text><text x="323.8" y="492.30">Clec4b2</text><text x="323.8" y="498.82">Clstn3</text><text x="323.8" y="505.33">Itsn1</text></g><text x="460.00" y="29.90" font-size="11.50" textLength="17.71" lengthAdjust="spacingAndGlyphs">Sell</text><path d="M445.50 39.70V160.20" stroke="#111" stroke-width="1.1" fill="none"/><text x="438.40" y="44.63" text-anchor="end" font-size="8.70">20000</text><text x="438.40" y="75.13" text-anchor="end" font-size="8.70">15000</text><text x="438.40" y="104.13" text-anchor="end" font-size="8.70">10000</text><text x="438.40" y="133.53" text-anchor="end" font-size="8.70">5000</text><text x="438.40" y="162.83" text-anchor="end" font-size="8.70">0</text><path d="M441.40 41.50H445.40M441.40 72.50H445.40M441.40 101.50H445.40M441.40 130.50H445.40M441.40 159.50H445.40" stroke="#111" stroke-width="1" fill="none"/><rect x="449.40" y="114.20" width="18.70" height="45.00" fill="#9d3446" stroke="#a52a40" stroke-width="0.8"/><rect x="476.80" y="77.50" width="18.20" height="81.70" fill="#4b6283" stroke="#3c5680" stroke-width="0.8"/><path d="M458.50 114.20V104.50M453.50 104.50H463.50" stroke="#222" stroke-width="1" fill="none"/><path d="M485.50 77.50V69.50M480.50 69.50H490.50" stroke="#222" stroke-width="1" fill="none"/><path d="M445.40 159.50H499.80M458.50 159.50V163.10M486.50 159.50V163.10" stroke="#111" stroke-width="1.1" fill="none"/><path d="M460.00 59.50H484.60" stroke="#2a2a2a" stroke-width="1.25" fill="none"/><circle cx="470.40" cy="55.40" r="1.15" fill="#2a2a2a"/><circle cx="474.20" cy="55.40" r="1.15" fill="#2a2a2a"/><text transform="translate(405.60 98.85) rotate(-90)" text-anchor="middle" font-size="11.00" textLength="109.44" lengthAdjust="spacingAndGlyphs">Normalized expression</text><text transform="translate(462.40 173.00) rotate(-45)" text-anchor="end" font-size="9.00">wt</text><text transform="translate(490.50 172.00) rotate(-45)" text-anchor="end" font-size="9.00">Stat3β<tspan font-size="6.84" dy="-1.8">TG</tspan></text><text x="460.20" y="229.90" font-size="11.40" textLength="23.30" lengthAdjust="spacingAndGlyphs">SELL</text><path d="M445.50 234.60V354.00" stroke="#111" stroke-width="1.1" fill="none"/><text x="438.40" y="240.13" text-anchor="end" font-size="8.70">100</text><text x="438.40" y="263.63" text-anchor="end" font-size="8.70">80</text><text x="438.40" y="287.33" text-anchor="end" font-size="8.70">60</text><text x="438.40" y="310.43" text-anchor="end" font-size="8.70">40</text><text x="438.40" y="333.53" text-anchor="end" font-size="8.70">20</text><text x="438.40" y="356.63" text-anchor="end" font-size="8.70">0</text><path d="M441.40 237.50H445.40M441.40 260.50H445.40M441.40 284.50H445.40M441.40 307.50H445.40M441.40 330.50H445.40M441.40 353.50H445.40" stroke="#111" stroke-width="1" fill="none"/><rect x="450.00" y="298.50" width="20.80" height="54.50" fill="#9d3446" stroke="#a52a40" stroke-width="0.8"/><rect x="481.20" y="274.50" width="20.60" height="78.50" fill="#4b6283" stroke="#3c5680" stroke-width="0.8"/><path d="M460.50 298.50V280.50M455.50 280.50H465.50" stroke="#222" stroke-width="1" fill="none"/><path d="M491.50 274.50V260.50M486.50 260.50H496.50" stroke="#222" stroke-width="1" fill="none"/><path d="M445.40 353.50H507.00M460.50 353.50V357.10M491.50 353.50V357.10" stroke="#111" stroke-width="1.1" fill="none"/><path d="M463.40 243.50H492.20" stroke="#2a2a2a" stroke-width="1.25" fill="none"/><circle cx="477.80" cy="239.40" r="1.15" fill="#2a2a2a"/><text transform="translate(415.30 294.20) rotate(-90)" text-anchor="middle" font-size="11.00" textLength="115.94" lengthAdjust="spacingAndGlyphs">Venus<tspan font-size="7.6" dy="-3.6">+</tspan><tspan dy="3.6"> CD62L</tspan><tspan font-size="7.6" dy="-3.6">+</tspan><tspan dy="3.6"> cells [%]</tspan></text><text transform="translate(464.20 367.50) rotate(-45)" text-anchor="end" font-size="9.00">wt</text><text transform="translate(495.20 366.50) rotate(-45)" text-anchor="end" font-size="9.00">Stat3β<tspan font-size="6.84" dy="-1.8">TG</tspan></text><text x="460.20" y="423.90" font-size="11.40" textLength="23.50" lengthAdjust="spacingAndGlyphs">SELL</text><path d="M445.50 429.50V551.00" stroke="#111" stroke-width="1.1" fill="none"/><text x="438.40" y="435.43" text-anchor="end" font-size="8.70">5000</text><text x="438.40" y="458.93" text-anchor="end" font-size="8.70">4000</text><text x="438.40" y="482.73" text-anchor="end" font-size="8.70">3000</text><text x="438.40" y="506.53" text-anchor="end" font-size="8.70">2000</text><text x="438.40" y="530.13" text-anchor="end" font-size="8.70">1000</text><text x="438.40" y="553.63" text-anchor="end" font-size="8.70">0</text><path d="M441.40 432.50H445.40M441.40 455.50H445.40M441.40 479.50H445.40M441.40 503.50H445.40M441.40 527.50H445.40M441.40 550.50H445.40" stroke="#111" stroke-width="1" fill="none"/><rect x="451.20" y="503.20" width="21.40" height="46.80" fill="#9d3446" stroke="#a52a40" stroke-width="0.8"/><rect x="484.20" y="530.00" width="21.70" height="20.00" fill="#4b6283" stroke="#3c5680" stroke-width="0.8"/><path d="M462.50 503.20V463.50M457.50 463.50H467.50" stroke="#222" stroke-width="1" fill="none"/><path d="M495.50 530.00V518.50M490.50 518.50H500.50" stroke="#222" stroke-width="1" fill="none"/><path d="M445.40 550.50H512.00M462.50 550.50V554.10M495.50 550.50V554.10" stroke="#111" stroke-width="1.1" fill="none"/><path d="M461.00 440.50H495.00" stroke="#2a2a2a" stroke-width="1.25" fill="none"/><circle cx="479.30" cy="436.40" r="1.15" fill="#2a2a2a"/><text transform="translate(409.30 490.75) rotate(-90)" text-anchor="middle" font-size="11.00" textLength="62.44" lengthAdjust="spacingAndGlyphs">SELL [ng/mL]</text><text transform="translate(464.60 564.50) rotate(-45)" text-anchor="end" font-size="9.00">wt</text><text transform="translate(495.60 563.00) rotate(-45)" text-anchor="end" font-size="9.00">Stat3β<tspan font-size="6.84" dy="-1.8">TG</tspan></text><text x="105.60" y="563.70" font-size="11.40" textLength="22.60" lengthAdjust="spacingAndGlyphs">BMC</text><path d="M61.50 570.50V713.80" stroke="#111" stroke-width="1.1" fill="none"/><text x="54.40" y="577.13" text-anchor="end" font-size="8.70">120</text><text x="54.40" y="600.33" text-anchor="end" font-size="8.70">100</text><text x="54.40" y="623.73" text-anchor="end" font-size="8.70">80</text><text x="54.40" y="646.63" text-anchor="end" font-size="8.70">60</text><text x="54.40" y="670.03" text-anchor="end" font-size="8.70">40</text><text x="54.40" y="692.93" text-anchor="end" font-size="8.70">20</text><text x="54.40" y="716.13" text-anchor="end" font-size="8.70">0</text><path d="M57.40 574.50H61.40M57.40 597.50H61.40M57.40 620.50H61.40M57.40 643.50H61.40M57.40 666.50H61.40M57.40 689.50H61.40M57.40 713.50H61.40" stroke="#111" stroke-width="1" fill="none"/><rect x="66.10" y="628.70" width="18.30" height="84.10" fill="#9d3446" stroke="#a52a40" stroke-width="0.8"/><rect x="93.80" y="664.20" width="18.40" height="48.60" fill="#4b6283" stroke="#3c5680" stroke-width="0.8"/><rect x="121.30" y="618.40" width="18.30" height="94.40" fill="#9d3446" stroke="#a52a40" stroke-width="0.8"/><rect x="148.50" y="628.40" width="18.30" height="84.40" fill="#4b6283" stroke="#3c5680" stroke-width="0.8"/><path d="M75.50 628.70V614.50M70.50 614.50H80.50" stroke="#222" stroke-width="1" fill="none"/><path d="M103.50 664.20V644.50M98.50 644.50H108.50" stroke="#222" stroke-width="1" fill="none"/><path d="M130.50 618.40V604.50M125.50 604.50H135.50" stroke="#222" stroke-width="1" fill="none"/><path d="M157.50 628.40V618.50M152.50 618.50H162.50" stroke="#222" stroke-width="1" fill="none"/><path d="M61.40 713.50H171.40M75.50 713.50V717.10M103.50 713.50V717.10M130.50 713.50V717.10M157.50 713.50V717.10" stroke="#111" stroke-width="1.1" fill="none"/><path d="M75.50 589.50H99.20" stroke="#2a2a2a" stroke-width="1.25" fill="none"/><circle cx="83.55" cy="585.40" r="1.15" fill="#2a2a2a"/><circle cx="87.35" cy="585.40" r="1.15" fill="#2a2a2a"/><circle cx="91.15" cy="585.40" r="1.15" fill="#2a2a2a"/><path d="M104.60 589.50H155.80" stroke="#2a2a2a" stroke-width="1.25" fill="none"/><circle cx="123.70" cy="585.40" r="1.15" fill="#2a2a2a"/><circle cx="127.50" cy="585.40" r="1.15" fill="#2a2a2a"/><circle cx="131.30" cy="585.40" r="1.15" fill="#2a2a2a"/><path d="M104.6 593.7H130.2" stroke="#222" stroke-width="1" fill="none"/><text transform="translate(31.80 641.70) rotate(-90)" text-anchor="middle" font-size="11.00" textLength="59.94" lengthAdjust="spacingAndGlyphs"># of colonies</text><text transform="translate(79.70 725.60) rotate(-45)" text-anchor="end" font-size="9.00">wt</text><text transform="translate(106.00 725.60) rotate(-45)" text-anchor="end" font-size="9.00">Stat3β<tspan font-size="6.84" dy="-1.8">TG</tspan></text><text transform="translate(133.40 725.60) rotate(-45)" text-anchor="end" font-size="9.00">wt</text><text transform="translate(160.50 725.60) rotate(-45)" text-anchor="end" font-size="9.00">Stat3β<tspan font-size="6.84" dy="-1.8">TG</tspan></text><path d="M127.8 761.9H169.6" stroke="#2a2a2a" stroke-width="1.4" fill="none"/><text x="147.5" y="774.5" text-anchor="middle" font-size="8.6">+CD62L</text><text x="147.5" y="786" text-anchor="middle" font-size="8.8">blocking AB</text><text x="275.99" y="563.00" font-size="11.60" textLength="18.02" lengthAdjust="spacingAndGlyphs">FLC</text><path d="M230.50 570.50V713.80" stroke="#111" stroke-width="1.1" fill="none"/><text x="223.50" y="577.13" text-anchor="end" font-size="8.70">100</text><text x="223.50" y="604.73" text-anchor="end" font-size="8.70">80</text><text x="223.50" y="632.43" text-anchor="end" font-size="8.70">60</text><text x="223.50" y="660.43" text-anchor="end" font-size="8.70">40</text><text x="223.50" y="688.53" text-anchor="end" font-size="8.70">20</text><text x="223.50" y="716.13" text-anchor="end" font-size="8.70">0</text><path d="M226.50 574.50H230.50M226.50 601.50H230.50M226.50 629.50H230.50M226.50 657.50H230.50M226.50 685.50H230.50M226.50 713.50H230.50" stroke="#111" stroke-width="1" fill="none"/><rect x="234.70" y="638.00" width="18.70" height="74.80" fill="#9d3446" stroke="#a52a40" stroke-width="0.8"/><rect x="262.00" y="660.80" width="18.40" height="52.00" fill="#4b6283" stroke="#3c5680" stroke-width="0.8"/><rect x="289.40" y="646.00" width="18.60" height="66.80" fill="#9d3446" stroke="#a52a40" stroke-width="0.8"/><rect x="316.70" y="635.90" width="18.70" height="76.90" fill="#4b6283" stroke="#3c5680" stroke-width="0.8"/><path d="M243.50 638.00V627.50M238.50 627.50H248.50" stroke="#222" stroke-width="1" fill="none"/><path d="M271.50 660.80V650.50M266.50 650.50H276.50" stroke="#222" stroke-width="1" fill="none"/><path d="M298.50 646.00V626.50M293.50 626.50H303.50" stroke="#222" stroke-width="1" fill="none"/><path d="M325.50 635.90V615.50M320.50 615.50H330.50" stroke="#222" stroke-width="1" fill="none"/><path d="M230.50 713.50H339.20M243.50 713.50V717.10M271.50 713.50V717.10M298.50 713.50V717.10M325.50 713.50V717.10" stroke="#111" stroke-width="1.1" fill="none"/><path d="M244.00 589.50H269.30" stroke="#2a2a2a" stroke-width="1.25" fill="none"/><circle cx="254.10" cy="585.40" r="1.15" fill="#2a2a2a"/><circle cx="257.90" cy="585.40" r="1.15" fill="#2a2a2a"/><circle cx="261.70" cy="585.40" r="1.15" fill="#2a2a2a"/><path d="M271.70 589.50H325.40" stroke="#2a2a2a" stroke-width="1.25" fill="none"/><circle cx="296.80" cy="585.40" r="1.15" fill="#2a2a2a"/><circle cx="300.60" cy="585.40" r="1.15" fill="#2a2a2a"/><text transform="translate(199.80 641.90) rotate(-90)" text-anchor="middle" font-size="11.00" textLength="60.34" lengthAdjust="spacingAndGlyphs"># of colonies</text><text transform="translate(248.20 725.60) rotate(-45)" text-anchor="end" font-size="9.00">wt</text><text transform="translate(275.20 725.60) rotate(-45)" text-anchor="end" font-size="9.00">Stat3β<tspan font-size="6.84" dy="-1.8">TG</tspan></text><text transform="translate(302.70 725.60) rotate(-45)" text-anchor="end" font-size="9.00">wt</text><text transform="translate(329.70 725.60) rotate(-45)" text-anchor="end" font-size="9.00">Stat3β<tspan font-size="6.84" dy="-1.8">TG</tspan></text><path d="M297 761.5H338.5" stroke="#2a2a2a" stroke-width="1.4" fill="none"/><text x="317" y="774" text-anchor="middle" font-size="8.6">+CD62L</text><text x="317" y="786" text-anchor="middle" font-size="8.8">blocking AB</text><rect x="0" y="0" width="520" height="2" fill="#5a5a5a"/><rect x="518" y="0" width="2" height="797" fill="#5c5c5c"/><rect x="0" y="0" width="1.3" height="797" fill="#000"/><rect x="0" y="795.6" width="520" height="1.4" fill="#000"/></svg></body></html>
